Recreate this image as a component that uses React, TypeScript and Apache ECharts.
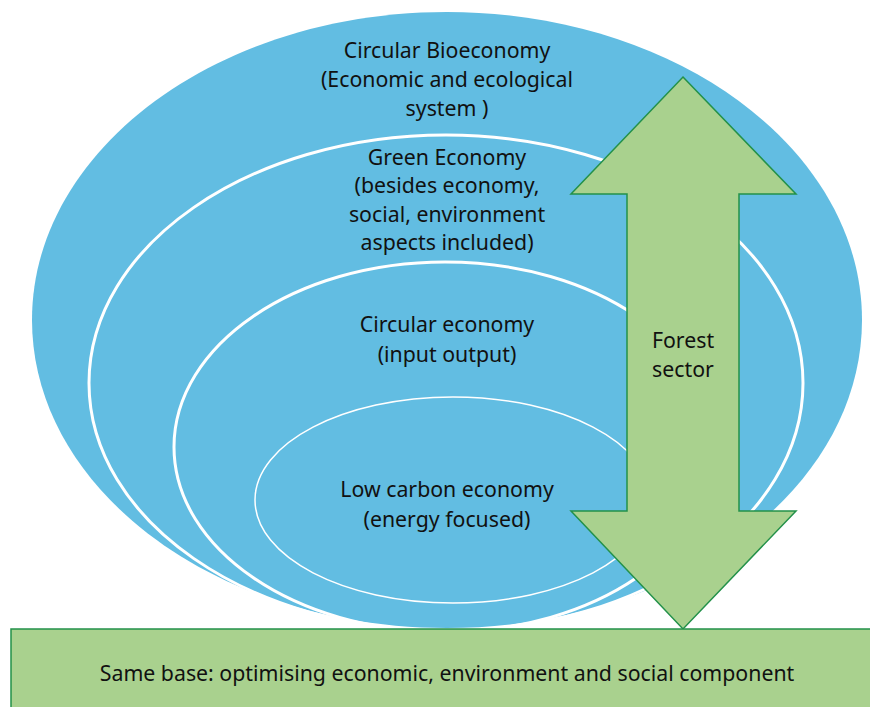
import React, { useEffect, useRef } from "react";
import * as echarts from "echarts";

const bioLines = ["Circular Bioeconomy", "(Economic and ecological", "system )"];
const greenLines = ["Green Economy", "(besides economy,", "social, environment", "aspects included)"];
const circularLines = ["Circular economy", "(input output)"];
const lowCarbonLines = ["Low carbon economy", "(energy focused)"];
const forestLines = ["Forest", "sector"];
const baseLabel = "Same base: optimising economic, environment and social component";

const BLUE = "#62bde2";
const GREEN_FILL = "#a9d18e";
const GREEN_STROKE = "#23914a";
const FONT = "'Noto Sans', sans-serif";
const FS = 21.3;

function textLines(lines: string[], cx: number, y0: number, lh: number) {
  return lines.map((t, i) => ({
    type: "text",
    x: cx,
    y: y0 + i * lh,
    style: {
      text: t,
      fill: "#111111",
      font: `${FS}px ${FONT}`,
      textAlign: "center",
      textVerticalAlign: "middle",
    },
    z: 10,
  }));
}

export default function App() {
  const ref = useRef<HTMLDivElement>(null);
  useEffect(() => {
    document.body.style.margin = "0";
    const chart = echarts.init(ref.current!, undefined, { renderer: "svg" });
    const arrowPts = [
      [683, 77],
      [796, 194],
      [739, 194],
      [739, 511],
      [796, 511],
      [683, 629],
      [571, 511],
      [627, 511],
      [627, 194],
      [571, 194],
    ];
    chart.setOption({
      animation: false,
      backgroundColor: "#ffffff",
      graphic: [
        { type: "ellipse", shape: { cx: 447, cy: 320, rx: 415, ry: 308 }, style: { fill: BLUE }, z: 1 },
        { type: "ellipse", shape: { cx: 446, cy: 383, rx: 357, ry: 248 }, style: { fill: "none", stroke: "#ffffff", lineWidth: 3 }, z: 2 },
        { type: "ellipse", shape: { cx: 445, cy: 447, rx: 271, ry: 185 }, style: { fill: "none", stroke: "#ffffff", lineWidth: 3 }, z: 3 },
        { type: "ellipse", shape: { cx: 453, cy: 500, rx: 198, ry: 103 }, style: { fill: "none", stroke: "#ffffff", lineWidth: 1.5 }, z: 4 },
        ...textLines(bioLines, 447, 49, 29),
        ...textLines(greenLines, 447, 156, 28.5),
        ...textLines(circularLines, 447, 323, 30),
        ...textLines(lowCarbonLines, 447, 488, 30),
        {
          type: "polygon",
          shape: { points: arrowPts },
          style: { fill: GREEN_FILL, stroke: GREEN_STROKE, lineWidth: 1.5 },
          z: 20,
        },
        ...textLines(forestLines, 683, 339, 29).map((e) => ({ ...e, z: 21 })),
        {
          type: "rect",
          shape: { x: 11, y: 629, width: 870, height: 90 },
          style: { fill: GREEN_FILL, stroke: GREEN_STROKE, lineWidth: 1.5 },
          z: 30,
        },
        {
          type: "text",
          x: 447,
          y: 672,
          style: {
            text: baseLabel,
            fill: "#111111",
            font: `${FS}px ${FONT}`,
            textAlign: "center",
            textVerticalAlign: "middle",
          },
          z: 31,
        },
      ],
    });
    return () => chart.dispose();
  }, []);
  return <div ref={ref} style={{ width: 870, height: 707 }} />;
}
